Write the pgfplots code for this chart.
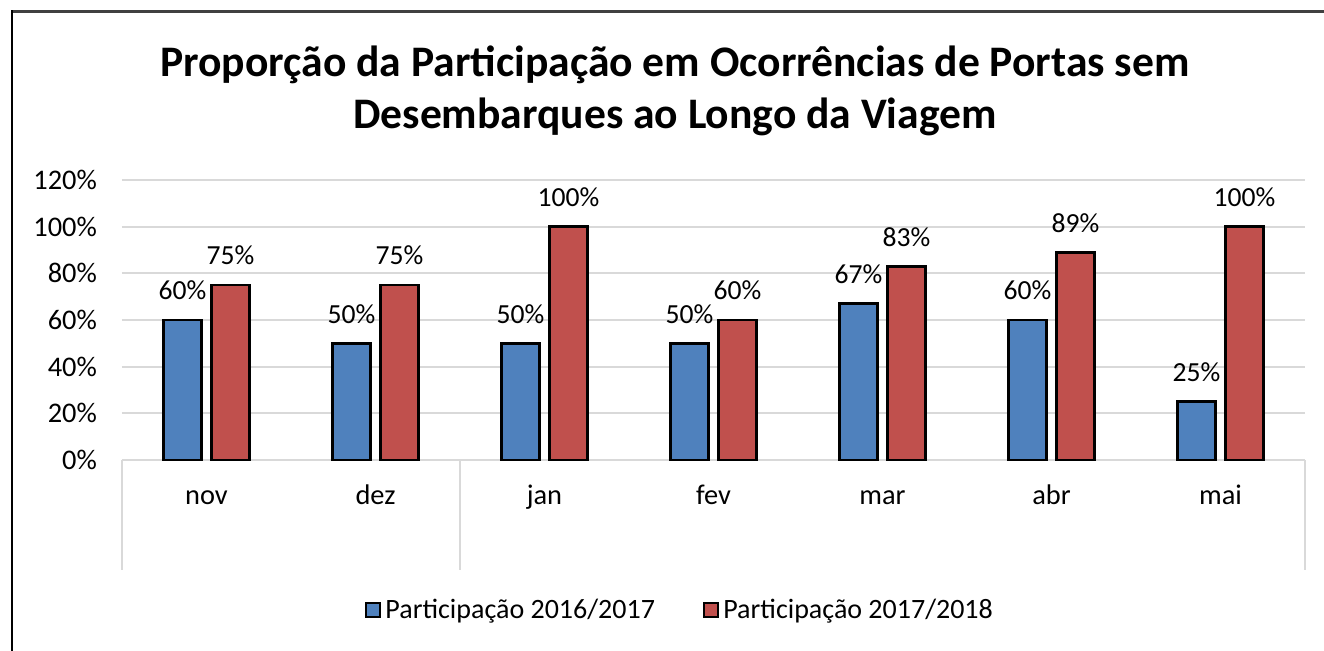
\documentclass[border=0pt]{standalone}
\usepackage{pgfplots}
\pgfplotsset{compat=1.18}
\usepackage{fontspec}
\setmainfont{Carlito}
\definecolor{serieA}{HTML}{4F81BD}
\definecolor{serieB}{HTML}{C0504D}
\definecolor{grade}{HTML}{D9D9D9}
\definecolor{moldura}{HTML}{404040}

\begin{document}
\begin{tikzpicture}
\useasboundingbox (0,0) rectangle (662pt,-325pt);
% moldura do gráfico
\draw[moldura, line width=1.2pt] (670pt,-5.8pt) -- (6pt,-5.8pt);
\draw[black, line width=1.3pt] (6pt,-5.2pt) -- (6pt,-330pt);

\node[font=\fontsize{21.8}{26}\selectfont\bfseries, align=center]
  at (337.5pt,-45.5pt)
  {Proporção da Participação em Ocorrências de Portas sem\\Desembarques ao Longo da Viagem};

\begin{axis}[
  at={(61pt,-230pt)}, anchor=south west,
  scale only axis, width=591.5pt, height=140pt,
  ymin=0, ymax=120, xmin=-0.5, xmax=6.5,
  ybar=5pt, bar width=19pt,
  ytick={0,20,...,120},
  yticklabel={\pgfmathprintnumber{\tick}\%},
  xtick={0,...,6},
  xticklabels={nov,dez,jan,fev,mar,abr,mai},
  major tick length=0pt,
  axis x line*=bottom, axis y line*=left,
  x axis line style={grade, line width=1pt, -},
  y axis line style={draw=none},
  ymajorgrids, grid style={grade, line width=0.9pt},
  /pgf/number format/assume math mode=true,
  tick label style={font=\fontsize{14.2}{16}\selectfont, text=black},
  yticklabel style={xshift=-9pt},
  xticklabel style={yshift=-11pt, text height=1.6ex, text depth=0.4ex, anchor=north},
  nodes near coords={\pgfmathprintnumber{\pgfplotspointmeta}\%},
  nodes near coords style={font=\fontsize{13.8}{16}\selectfont, text=black, yshift=6pt},
  clip=false,
  legend columns=2,
  legend style={at={(0.4725,-0.536)}, anchor=center, draw=none,
    font=\fontsize{14}{16}\selectfont,
    /tikz/every even column/.append style={column sep=22pt},
    nodes={inner xsep=2pt}},
  legend image code/.code={\draw[#1, draw=black, line width=1pt] (0pt,-3.6pt) rectangle (7.2pt,3.6pt);},
]
\addplot[fill=serieA, draw=black, line width=1.2pt] coordinates
  {(0,60) (1,50) (2,50) (3,50) (4,67) (5,60) (6,25)};
\addplot[fill=serieB, draw=black, line width=1.2pt] coordinates
  {(0,75) (1,75) (2,100) (3,60) (4,83) (5,89) (6,100)};
\legend{Participação 2016/2017, Participação 2017/2018}

% divisórias do eixo de categorias
\draw[grade, line width=1pt] (axis cs:-0.5,0) -- ([yshift=-55pt]axis cs:-0.5,0);
\draw[grade, line width=1pt] (axis cs:1.5,0) -- ([yshift=-55pt]axis cs:1.5,0);
\draw[grade, line width=1pt] (axis cs:6.5,0) -- ([yshift=-55pt]axis cs:6.5,0);
\end{axis}
\end{tikzpicture}
\end{document}
